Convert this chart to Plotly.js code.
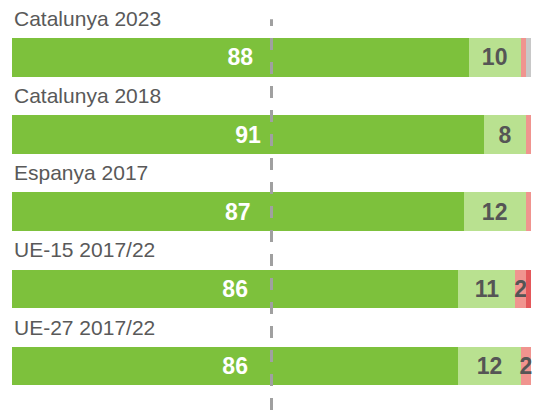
<!DOCTYPE html>
<html>
<head>
<meta charset="utf-8">
<script src="https://cdn.plot.ly/plotly-3.0.1.min.js"></script>
<style>
  html, body { margin: 0; padding: 0; background: #fff; }
  #chart { width: 534px; height: 410px; }
</style>
</head>
<body>
<div id="chart"></div>
<script>
// categories, top to bottom
const categories = ['Catalunya 2023', 'Catalunya 2018', 'Espanya 2017', 'UE-15 2017/22', 'UE-27 2017/22'];

// shares (%) per segment
const verySatisfied = [88, 91, 87, 86, 86];
const satisfied = [10, 8, 12, 11, 12];
const unsatisfied = [1, 1, 1, 2, 2];
const veryUnsatisfied = [0, 0, 0, 1, 0];
const noAnswer = [1, 0, 0, 0, 0];

const labelFont = 'Liberation Sans, Arial, sans-serif';

function makeTrace(vals, color, textColor) {
    return {
        type: 'bar',
        orientation: 'h',
        y: categories,
        x: vals,
        width: 0.5,
        marker: {color: color, line: {width: 0}},
        text: vals.map(v => v >= 2 ? String(v) : ''),
        textposition: 'inside',
        insidetextanchor: 'middle',
        constraintext: 'none',
        textangle: 0,
        textfont: {family: labelFont, size: 23, color: textColor, weight: 'bold'},
        cliponaxis: false,
        hoverinfo: 'none',
        showlegend: false
    };
}

const data = [
    makeTrace(verySatisfied, '#7dc13c', '#ffffff'),
    makeTrace(satisfied, '#b9e190', '#555555'),
    makeTrace(unsatisfied, '#f0948f', '#555555'),
    makeTrace(veryUnsatisfied, '#e4575a', '#555555'),
    makeTrace(noAnswer, '#c8c8c8', '#555555')
];

// category names sit above their bars
const annotations = categories.map(c => ({
    x: 0, xref: 'x', xanchor: 'left',
    y: c, yref: 'y', yanchor: 'middle', yshift: 39,
    text: c, showarrow: false,
    font: {family: labelFont, size: 21, color: '#595959'}
}));

const layout = {
    width: 534,
    height: 410,
    margin: {l: 12, r: 3, t: 0, b: 0},
    barmode: 'stack',
    paper_bgcolor: '#ffffff',
    plot_bgcolor: '#ffffff',
    xaxis: {range: [0, 100], visible: false, fixedrange: true},
    yaxis: {
        type: 'category',
        categoryorder: 'array',
        categoryarray: categories,
        range: [4.57, -0.745],
        visible: false
    },
    shapes: [{
        type: 'line', layer: 'above',
        xref: 'x', x0: 50, x1: 50,
        yref: 'paper', y0: 0, y1: 0.953,
        line: {color: '#a0a0a0', width: 3, dash: '12px,12px'}
    }],
    annotations: annotations
};

Plotly.newPlot('chart', data, layout, {displayModeBar: false, staticPlot: true});
</script>
</body>
</html>
